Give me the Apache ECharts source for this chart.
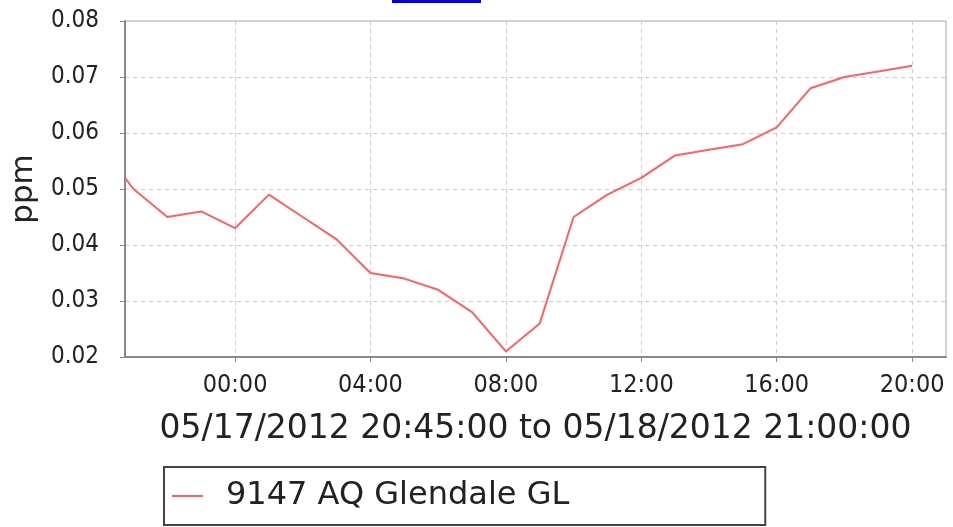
<!DOCTYPE html>
<html>
<head>
<meta charset="utf-8">
<script src="https://cdn.jsdelivr.net/npm/echarts@6/dist/echarts.min.js"></script>
<style>
  html, body { margin: 0; padding: 0; background: #fff; }
  #chart { width: 953px; height: 527px; }
</style>
</head>
<body>
<div id="chart"></div>
<script>
// readings, ppm
const times = [
  "2012-05-17T20:45", "2012-05-17T21:00", "2012-05-17T22:00", "2012-05-17T23:00",
  "2012-05-18T00:00", "2012-05-18T01:00", "2012-05-18T02:00", "2012-05-18T03:00",
  "2012-05-18T04:00", "2012-05-18T05:00", "2012-05-18T06:00", "2012-05-18T07:00",
  "2012-05-18T08:00", "2012-05-18T09:00", "2012-05-18T10:00", "2012-05-18T11:00",
  "2012-05-18T12:00", "2012-05-18T13:00", "2012-05-18T14:00", "2012-05-18T15:00",
  "2012-05-18T16:00", "2012-05-18T17:00", "2012-05-18T18:00", "2012-05-18T19:00",
  "2012-05-18T20:00"
];
const ozone = [
  0.052, 0.050, 0.045, 0.046,
  0.043, 0.049, 0.045, 0.041,
  0.035, 0.034, 0.032, 0.028,
  0.021, 0.026, 0.045, 0.049,
  0.052, 0.056, 0.057, 0.058,
  0.061, 0.068, 0.070, 0.071,
  0.072
];
const rangeStart = "2012-05-17T20:45";
const rangeEnd = "2012-05-18T21:00";
const seriesName = "9147 AQ Glendale GL";
const axisTitle = "05/17/2012 20:45:00 to 05/18/2012 21:00:00";

const toMs = s => Date.parse(s + ":00Z");
const HOUR = 3600 * 1000;

const chart = echarts.init(document.getElementById("chart"));
chart.setOption({
  useUTC: true,
  animation: false,
  grid: {
    left: 123, right: 7, top: 21, bottom: 170,
    show: true, borderColor: "#aaa", borderWidth: 1
  },
  legend: {
    left: 164, top: 467,
    padding: [13, 196, 13, 8],
    borderColor: "#444", borderWidth: 2,
    itemWidth: 31, itemHeight: 2,
    icon: "rect",
    textStyle: {
      fontFamily: "DejaVu Sans", fontSize: 32, color: "#222",
      padding: [0, 0, 0, 18]
    },
    data: [seriesName]
  },
  xAxis: {
    type: "time",
    min: toMs(rangeStart),
    max: toMs(rangeEnd),
    minInterval: 4 * HOUR,
    maxInterval: 4 * HOUR,
    name: axisTitle,
    nameLocation: "middle",
    nameGap: 56,
    nameTextStyle: { fontFamily: "DejaVu Sans", fontSize: 33, color: "#222" },
    axisLine: { lineStyle: { color: "#888", width: 2 } },
    axisTick: { show: true, length: 5, lineStyle: { color: "#888" } },
    axisLabel: {
      formatter: "{HH}:{mm}",
      fontFamily: "DejaVu Sans Condensed", fontSize: 25, color: "#222",
      margin: 16, hideOverlap: false
    },
    splitLine: { show: true, lineStyle: { color: "#ccc", type: [4, 4] } }
  },
  yAxis: {
    type: "value",
    min: 0.02, max: 0.08, interval: 0.01,
    name: "ppm",
    nameLocation: "middle",
    nameGap: 86,
    nameRotate: 90,
    nameTextStyle: { fontFamily: "DejaVu Sans", fontSize: 31, color: "#222" },
    axisLine: { show: true, lineStyle: { color: "#888", width: 2 } },
    axisTick: { show: true, length: 5, lineStyle: { color: "#888" } },
    axisLabel: {
      formatter: v => v.toFixed(2),
      fontFamily: "DejaVu Sans Condensed", fontSize: 24, color: "#222",
      margin: 26
    },
    splitLine: { show: true, lineStyle: { color: "#ccc", type: [4, 4] } }
  },
  series: [{
    name: seriesName,
    type: "line",
    symbol: "none",
    color: "#ff6060",
    lineStyle: { width: 2 },
    data: times.map((t, i) => [toMs(t), ozone[i]])
  }],
  graphic: [{
    type: "rect",
    shape: { x: 392, y: 0, width: 89, height: 3 },
    style: { fill: "#0000ee" }
  }]
});
</script>
</body>
</html>
